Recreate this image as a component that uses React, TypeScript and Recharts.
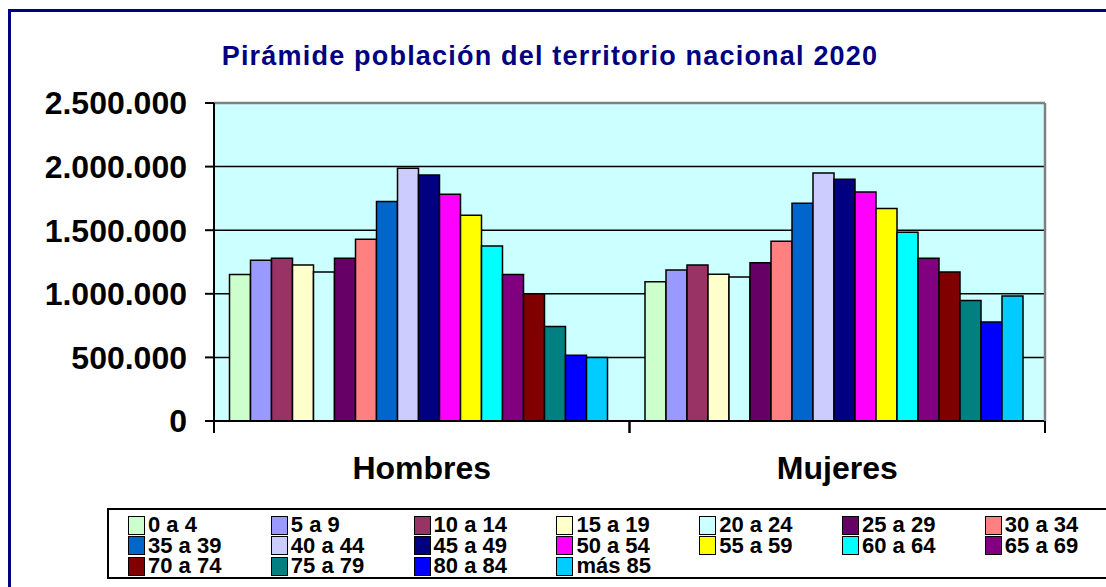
import React from 'react';
import { BarChart, Bar, XAxis, YAxis, CartesianGrid, ReferenceLine } from 'recharts';

const title = 'Pirámide población del territorio nacional 2020';
const categories = ['Hombres', 'Mujeres'];
const ageGroups = ['0 a 4', '5 a 9', '10 a 14', '15 a 19', '20 a 24', '25 a 29', '30 a 34', '35 a 39', '40 a 44', '45 a 49', '50 a 54', '55 a 59', '60 a 64', '65 a 69', '70 a 74', '75 a 79', '80 a 84', 'más 85'];
const hombres = [1152000, 1263000, 1279000, 1226000, 1171000, 1279000, 1429000, 1726000, 1987000, 1934000, 1782000, 1618000, 1376000, 1152000, 1000000, 742000, 516000, 500000];
const mujeres = [1095000, 1187000, 1226000, 1153000, 1132000, 1245000, 1413000, 1711000, 1950000, 1900000, 1800000, 1671000, 1484000, 1279000, 1171000, 947000, 779000, 982000];
const colors = ['#CCFFCC', '#9999FF', '#993366', '#FFFFCC', '#CCFFFF', '#660066', '#FF8080', '#0066CC', '#CCCCFF', '#000080', '#FF00FF', '#FFFF00', '#00FFFF', '#800080', '#800000', '#008080', '#0000FF', '#00CCFF'];
const yTicks = [0, 500000, 1000000, 1500000, 2000000, 2500000];

const seriesValues = [hombres, mujeres];
const data = categories.map((c, ci) => {
  const row: Record<string, string | number> = { sexo: c };
  ageGroups.forEach((g, gi) => {
    row['g' + gi] = seriesValues[ci][gi];
  });
  return row;
});

const fmt = (v: number) => String(v).replace(/\B(?=(\d{3})+(?!\d))/g, '.');
const FONT = '"Liberation Sans", Arial, sans-serif';

const CategoryTick = (props: any) => {
  const { x, y, payload } = props;
  const half = payload && typeof payload.offset === 'number' ? payload.offset : 0;
  return (
    <g>
      <line x1={x - half} x2={x - half} y1={y} y2={y + 12} stroke="#000" strokeWidth={2} />
      <line x1={x + half} x2={x + half} y1={y} y2={y + 12} stroke="#000" strokeWidth={2} />
      <text x={x} y={y + 58} textAnchor="middle" fill="#000" fontSize={32} fontWeight="bold" fontFamily={FONT}>
        {payload.value}
      </text>
    </g>
  );
};

export default function App() {
  const legendCols = 7;
  return (
    <div style={{ position: 'fixed', left: 0, top: 0, width: 1106, height: 587, overflow: 'hidden', background: '#fff', fontFamily: FONT }}>
      <div style={{ position: 'absolute', left: 8, top: 9, width: 1120, height: 600, border: '3px solid #000080', boxSizing: 'border-box' }} />
      <div style={{ position: 'absolute', left: 0, width: 1106, top: 40, textAlign: 'center', fontWeight: 'bold', fontSize: 27, letterSpacing: 1.2, color: '#000080', lineHeight: '32px' }}>
        <span style={{ position: 'relative', left: -3 }}>{title}</span>
      </div>
      <div style={{ position: 'absolute', left: 0, top: 0 }}>
        <BarChart width={1106} height={587} data={data} margin={{ top: 103, right: 60, left: 14, bottom: 106 }} barCategoryGap={15.5} barGap={0}>
          <CartesianGrid vertical={false} stroke="#000" strokeWidth={1.5} fill="#CCFFFF" horizontalValues={yTicks} />
          <XAxis dataKey="sexo" height={60} axisLine={{ stroke: '#000', strokeWidth: 2 }} tickLine={false} tickSize={0} tickMargin={0} tick={<CategoryTick />} interval={0} />
          <YAxis width={200} domain={[0, 2500000]} ticks={yTicks} tickFormatter={fmt} interval={0} tickSize={9} tickMargin={18} axisLine={{ stroke: '#000', strokeWidth: 2 }} tickLine={{ stroke: '#000', strokeWidth: 2 }} tick={{ fill: '#000', fontSize: 32, fontWeight: 'bold', fontFamily: FONT }} />
          <YAxis yAxisId="r" orientation="right" width={1} domain={[0, 2500000]} ticks={yTicks} tick={false} tickLine={false} axisLine={{ stroke: '#808080', strokeWidth: 2.5 }} />
          <ReferenceLine y={2500000} stroke="#808080" strokeWidth={2.5} />
          {ageGroups.map((g, i) => (
            <Bar key={g} dataKey={'g' + i} name={g} fill={colors[i]} stroke="#000" strokeWidth={1.5} isAnimationActive={false} />
          ))}
        </BarChart>
      </div>
      <div style={{ position: 'absolute', left: 107, top: 508, width: 1100, height: 71, border: '2px solid #000', boxSizing: 'border-box' }}>
        {ageGroups.map((g, i) => {
          const col = i % legendCols;
          const row = Math.floor(i / legendCols);
          return (
            <div key={g} style={{ position: 'absolute', left: 19 + col * 142.8, top: 5 + row * 20.7, height: 20, display: 'flex', alignItems: 'center' }}>
              <div style={{ width: 17, height: 19, background: colors[i], border: '1.5px solid #000', boxSizing: 'border-box' }} />
              <span style={{ marginLeft: 3, fontSize: 22, fontWeight: 'bold', color: '#000', lineHeight: '20px', whiteSpace: 'nowrap' }}>{g}</span>
            </div>
          );
        })}
      </div>
    </div>
  );
}
